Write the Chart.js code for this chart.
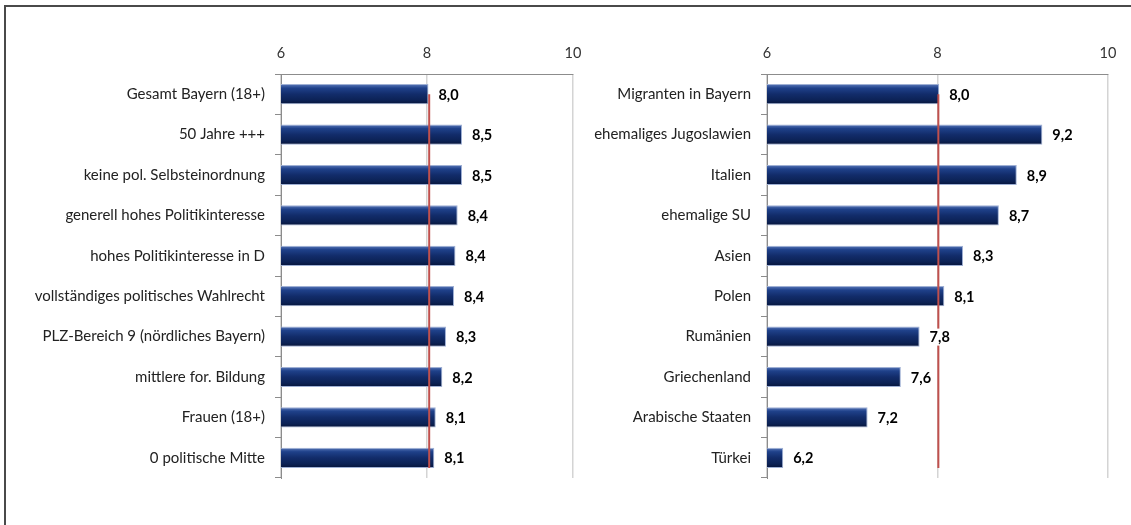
<!DOCTYPE html>
<html lang="de">
<head>
<meta charset="utf-8">
<title>Bayern – Vergleich</title>
<script src="https://cdn.jsdelivr.net/npm/chart.js@4.4.1/dist/chart.umd.min.js"></script>
<style>
  html, body { margin: 0; padding: 0; background: #fff; }
  #stage { position: relative; width: 1131px; height: 525px; overflow: hidden; }
  #frame {
    position: absolute; left: 4px; top: 5px; width: 1140px; height: 540px;
    border-top: 2px solid #4a4a4a; border-left: 2px solid #4a4a4a;
  }
  #leftBox  { position: absolute; left: 0;     top: 0; width: 600px; height: 525px; }
  #rightBox { position: absolute; left: 570px; top: 0; width: 561px; height: 525px; }
</style>
</head>
<body>
<div id="stage">
  <div id="frame"></div>
  <div id="leftBox"><canvas id="leftChart" width="600" height="525"></canvas></div>
  <div id="rightBox"><canvas id="rightChart" width="561" height="525"></canvas></div>
</div>

<script>
/* --- Daten --- */
const leftCategories = [
  'Gesamt Bayern (18+)', '50 Jahre +++', 'keine pol. Selbsteinordnung',
  'generell hohes Politikinteresse', 'hohes Politikinteresse in D',
  'vollständiges politisches Wahlrecht', 'PLZ-Bereich 9 (nördliches Bayern)',
  'mittlere for. Bildung', 'Frauen (18+)', '0 politische Mitte'
];
const leftValues = [8.02, 8.48, 8.48, 8.42, 8.39, 8.37, 8.26, 8.21, 8.12, 8.10];

const rightCategories = [
  'Migranten in Bayern', 'ehemaliges Jugoslawien', 'Italien', 'ehemalige SU',
  'Asien', 'Polen', 'Rumänien', 'Griechenland', 'Arabische Staaten', 'Türkei'
];
const rightValues = [8.02, 9.23, 8.93, 8.72, 8.30, 8.08, 7.79, 7.57, 7.18, 6.19];

const xTicks = [6, 8, 10];
const leftReference = 8.03;
const rightReference = 8.01;

const FONT = 'Lato, "Noto Sans", sans-serif';

/* --- Balken-Verlauf (Bevel-Look) --- */
function barFill(ctx) {
  const chart = ctx.chart;
  const y = chart.scales.y;
  if (!y || ctx.dataIndex === undefined) return '#14306f';
  const step = y.getPixelForValue(1) - y.getPixelForValue(0);
  const cy = y.getPixelForValue(ctx.dataIndex);
  if (!isFinite(step) || !isFinite(cy) || step <= 0) return '#14306f';
  const half = step * 0.25;
  const g = chart.ctx.createLinearGradient(0, cy - half, 0, cy + half);
  g.addColorStop(0, '#5c7abb');
  g.addColorStop(0.2, '#1f418a');
  g.addColorStop(0.5, '#122c6a');
  g.addColorStop(0.8, '#0c2255');
  g.addColorStop(1, '#06143a');
  return g;
}

/* --- Rote Referenzlinie + Werte --- */
const refAndLabels = {
  id: 'refAndLabels',
  afterDatasetsDraw(chart, args, opts) {
    const { ctx } = chart;
    const x = chart.scales.x;
    const y = chart.scales.y;
    const n = chart.data.labels.length;
    const half = (y.getPixelForValue(1) - y.getPixelForValue(0)) * 0.25;
    const rx = x.getPixelForValue(opts.value);

    ctx.save();
    ctx.strokeStyle = '#c0504d';
    ctx.lineWidth = 2;
    ctx.beginPath();
    ctx.moveTo(rx, y.getPixelForValue(0));
    ctx.lineTo(rx, y.getPixelForValue(n - 1) + half);
    ctx.stroke();

    ctx.font = 'bold 14.5px ' + FONT;
    ctx.textBaseline = 'middle';
    ctx.textAlign = 'left';
    const meta = chart.getDatasetMeta(0);
    meta.data.forEach((bar, i) => {
      const txt = chart.data.datasets[0].data[i].toFixed(1).replace('.', ',');
      const tx = bar.x + 10;
      const w = ctx.measureText(txt).width;
      ctx.fillStyle = '#fff';
      ctx.fillRect(tx - 1, bar.y - 8, w + 2, 17);
      ctx.fillStyle = '#000';
      ctx.fillText(txt, tx, bar.y + 1);
    });
    ctx.restore();
  }
};

function makeChart(id, labels, values, ref, axisWidth, padRight) {
  return new Chart(document.getElementById(id), {
    type: 'bar',
    data: {
      labels: labels,
      datasets: [{
        data: values,
        backgroundColor: barFill,
        borderColor: '#9fb0d4',
        borderWidth: 1,
        borderSkipped: 'start',
        barPercentage: 0.5,
        categoryPercentage: 1.0
      }]
    },
    options: {
      indexAxis: 'y',
      responsive: false,
      animation: false,
      devicePixelRatio: 1,
      layout: { padding: { left: 0, top: 0, right: padRight, bottom: 47 } },
      plugins: {
        legend: { display: false },
        tooltip: { enabled: false },
        refAndLabels: { value: ref }
      },
      scales: {
        x: {
          type: 'linear',
          position: 'top',
          min: 6,
          max: 10,
          afterBuildTicks: s => { s.ticks = xTicks.map(v => ({ value: v })); },
          afterFit: s => { s.height = 74; },
          grid: { color: '#d4d4d4', lineWidth: 1.5, drawTicks: false },
          border: { display: true, color: '#8c8c8c', width: 1 },
          ticks: { padding: 12, color: '#333', font: { family: FONT, size: 14.5 } }
        },
        y: {
          type: 'category',
          afterFit: s => { s.width = axisWidth; },
          grid: { offset: true, drawOnChartArea: false, tickLength: 6, color: '#8c8c8c' },
          border: { display: true, color: '#8c8c8c', width: 1 },
          ticks: { padding: 10, color: '#222', font: { family: FONT, size: 15 } }
        }
      }
    },
    plugins: [refAndLabels]
  });
}

window.addEventListener('load', () => {
  makeChart('leftChart', leftCategories, leftValues, leftReference, 281, 27);
  makeChart('rightChart', rightCategories, rightValues, rightReference, 197, 23);
});
</script>
</body>
</html>
